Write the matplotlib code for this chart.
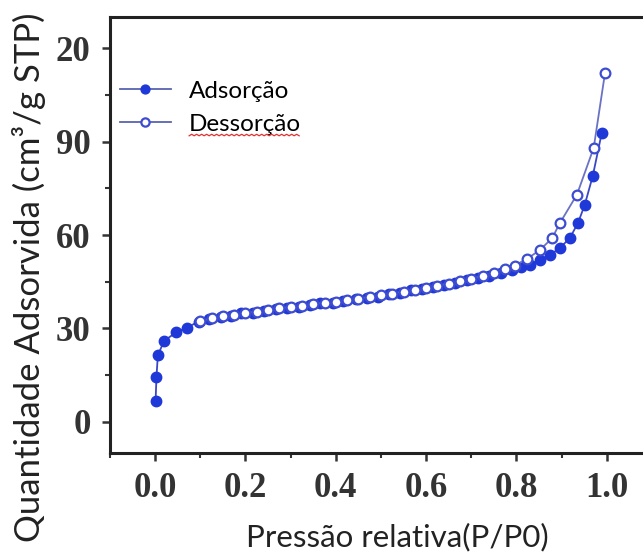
import numpy as np
import matplotlib
matplotlib.use('Agg')
import matplotlib.pyplot as plt
from matplotlib.lines import Line2D
from matplotlib.ticker import MultipleLocator

# adsorption branch (filled markers)
x_ads = [0.001, 0.003, 0.006, 0.020, 0.046, 0.070, 0.097, 0.120, 0.146, 0.168,
         0.190, 0.216, 0.240, 0.267, 0.293, 0.318, 0.342, 0.366, 0.393, 0.417,
         0.444, 0.470, 0.494, 0.517, 0.542, 0.566, 0.590, 0.615, 0.640, 0.665,
         0.690, 0.715, 0.740, 0.765, 0.790, 0.810, 0.830, 0.852, 0.874, 0.896,
         0.918, 0.936, 0.951, 0.969, 0.989]
y_ads = [6.7, 14.4, 21.4, 26.0, 28.7, 30.3, 32.2, 32.9, 33.8, 34.1,
         34.8, 35.1, 35.7, 36.4, 36.7, 37.0, 37.6, 38.3, 38.3, 38.9,
         39.3, 39.9, 40.2, 41.0, 41.5, 42.2, 42.8, 43.4, 44.0, 44.7,
         45.4, 46.1, 46.9, 47.8, 48.8, 49.6, 50.5, 52.0, 53.6, 55.8,
         59.0, 63.8, 69.6, 79.0, 92.9]

# desorption branch (open markers)
x_des = [0.996, 0.971, 0.934, 0.896, 0.879, 0.852, 0.823, 0.797, 0.775, 0.750,
         0.725, 0.700, 0.675, 0.650, 0.625, 0.600, 0.575, 0.550, 0.525, 0.500,
         0.475, 0.450, 0.425, 0.400, 0.375, 0.350, 0.325, 0.300, 0.275, 0.250,
         0.225, 0.200, 0.175, 0.150, 0.125, 0.100]
y_des = [112.0, 88.0, 73.0, 63.8, 59.0, 55.2, 52.3, 50.2, 49.0, 47.8,
         46.8, 46.0, 45.2, 44.4, 43.7, 43.1, 42.4, 41.8, 41.2, 40.6,
         40.1, 39.6, 39.1, 38.6, 38.3, 37.8, 37.3, 36.9, 36.5, 35.9,
         35.4, 35.0, 34.4, 34.0, 33.2, 32.4]

yticks = [0, 30, 60, 90, 120]
ytick_labels = ['0', '30', '60', '90', '20']
xticks = [0.0, 0.2, 0.4, 0.6, 0.8, 1.0]

fig = plt.figure(figsize=(6.43, 5.54), dpi=100)
ax = fig.add_axes([0.171, 0.1823, 0.857, 0.787])

ax.plot(x_ads, y_ads, color='#3a48c4', lw=1.3, marker='o', ms=7.5,
        mfc='#1f38d8', mec='#1f38d8', label=u'Adsorção', zorder=2)
ax.plot(x_des, y_des, color='#6a72c4', lw=1.3, marker='o', ms=7.0,
        mfc='white', mec='#3d4cd0', mew=1.6, label=u'Dessorção', zorder=3)

ax.set_xlim(-0.1, 1.12)
ax.set_ylim(-10, 130)
ax.set_xticks(xticks)
ax.set_xticklabels(['%.1f' % v for v in xticks])
ax.set_yticks(yticks)
ax.set_yticklabels(ytick_labels)
ax.xaxis.set_minor_locator(MultipleLocator(0.1))
ax.yaxis.set_minor_locator(MultipleLocator(15))

for sp in ['left', 'top', 'bottom']:
    ax.spines[sp].set_linewidth(2.2)
    ax.spines[sp].set_color('#222222')
ax.spines['right'].set_visible(False)

ax.tick_params(which='major', direction='out', length=6, width=1.8, color='#333333')
ax.tick_params(which='minor', direction='out', length=3.5, width=1.5, color='#333333')
for lab in ax.get_xticklabels() + ax.get_yticklabels():
    lab.set_family('Liberation Serif')
    lab.set_weight('bold')
    lab.set_size(25)
    lab.set_color('#333333')
ax.tick_params(axis='x', pad=8)
ax.tick_params(axis='y', pad=8)

leg = ax.legend(loc='center left', bbox_to_anchor=(0.018, 0.792), frameon=False,
                prop={'family': 'Lato', 'size': 17.5}, handlelength=2.1,
                handletextpad=0.75, labelspacing=0.5, borderaxespad=0,
                borderpad=0, markerscale=0.85)
for h in leg.get_lines():
    h.set_color('#5a63b0')

fig.text(0.045, 0.5, 'Quantidade Adsorvida (cm³/g STP)', rotation=90,
         ha='center', va='center', family='Lato', size=25, color='#222222')
fig.text(0.618, 0.03, 'Pressão relativa(P/P0)', ha='center', va='center',
         family='Lato', size=22.5, color='#222222')

# red spell-check squiggle under "Dessorção"
fig.canvas.draw()
bb = leg.get_texts()[1].get_window_extent(fig.canvas.get_renderer())
zx = np.arange(bb.x0, bb.x1, 2.5)
zy = bb.y0 - 1 + 1.5 * (np.arange(len(zx)) % 2)
fig.add_artist(Line2D(zx / fig.bbox.width, zy / fig.bbox.height,
                      color='#e03030', lw=0.9, transform=fig.transFigure))

fig.savefig('out.png', dpi=100)
